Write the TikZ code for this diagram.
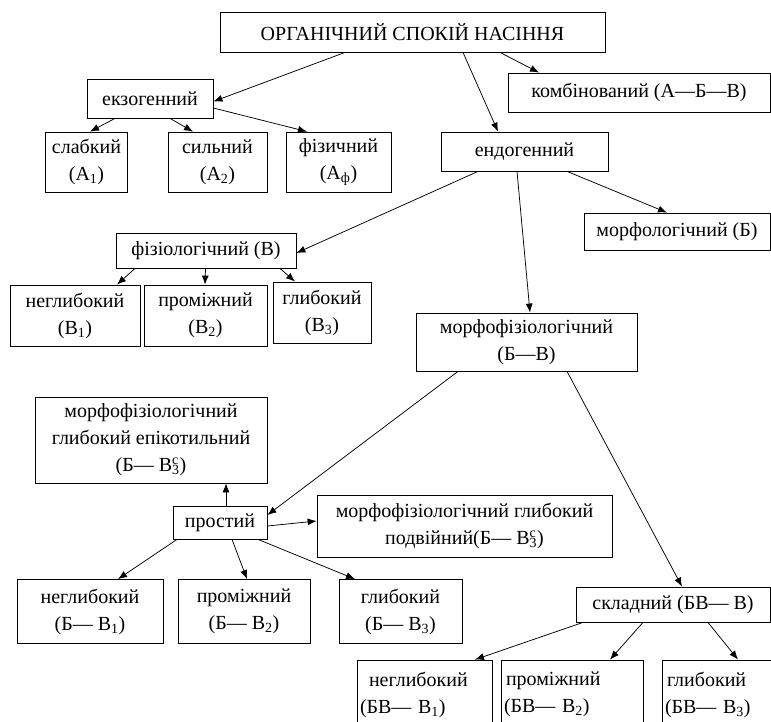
\documentclass[tikz,border=0pt]{standalone}
\usepackage{fontspec}
\setmainfont{Liberation Serif}
\usepackage{tikz}
\usetikzlibrary{arrows.meta, positioning, calc}

\newcommand{\sub}[1]{\textsubscript{#1}}
\newcommand{\epiV}{В\rlap{\textsuperscript{с}}\textsubscript{3}}

\begin{document}
\begin{tikzpicture}[
    x=1pt, y=-1pt,
    box/.style={rectangle, draw=black, line width=0.8pt, align=center, inner sep=0pt, font=\fontsize{20}{27}\selectfont},
    lbox/.style={box, align=left, inner xsep=3pt},
    arrow/.style={line width=0.75pt,-{Latex[length=9pt,width=7pt]}}
]
    \clip (0,0) rectangle (771,722);

    % top level
    \node[box, minimum width=385pt, minimum height=40pt] (root) at (412.5,32) {ОРГАНІЧНИЙ СПОКІЙ НАСІННЯ};
    \node[box, minimum width=126pt, minimum height=39pt] (exo) at (150,98.5) {екзогенний};
    \node[box, minimum width=262pt, minimum height=39pt] (komb) at (639,92.5) {комбінований (А—Б—В)};
    \node[box, minimum width=167pt, minimum height=39pt] (endo) at (524.5,151.5) {ендогенний};

    % exogenous
    \node[box, minimum width=82pt, minimum height=60pt] (a1) at (86.5,162) {слабкий\\(А\sub{1})};
    \node[box, minimum width=99pt, minimum height=60pt] (a2) at (217.5,162) {сильний\\(А\sub{2})};
    \node[box, minimum width=105pt, minimum height=60pt] (af) at (338.5,162) {фізичний\\(А\sub{ф})};

    % endogenous
    \node[box, minimum width=186pt, minimum height=37pt] (morf) at (677,231.5) {морфологічний (Б)};
    \node[box, minimum width=180pt, minimum height=35pt] (fiz) at (206,250.5) {фізіологічний (В)};
    \node[box, minimum width=130pt, minimum height=61pt] (b1) at (75,315.5) {неглибокий\\(В\sub{1})};
    \node[box, minimum width=123pt, minimum height=61pt] (b2) at (205.5,315.5) {проміжний\\(В\sub{2})};
    \node[box, minimum width=98pt, minimum height=61pt] (b3) at (322,312.5) {глибокий\\(В\sub{3})};
    \node[box, minimum width=221pt, minimum height=58pt] (mf) at (526.5,342) {морфофізіологічний\\(Б—В)};

    % simple
    \node[box, minimum width=232pt, minimum height=86pt] (epi) at (151,440) {морфофізіологічний\\глибокий епікотильний\\(Б— \epiV)};
    \node[box, minimum width=94pt, minimum height=33pt] (prost) at (220,522.5) {простий};
    \node[box, minimum width=295pt, minimum height=62pt] (podv) at (464.5,526) {морфофізіологічний глибокий\\подвійний(Б— \epiV)};
    \node[box, minimum width=146pt, minimum height=64pt] (c1) at (90,611.5) {неглибокий\\(Б— В\sub{1})};
    \node[box, minimum width=132pt, minimum height=64pt] (c2) at (244,611.5) {проміжний\\(Б— В\sub{2})};
    \node[box, minimum width=123pt, minimum height=64pt] (c3) at (400.5,611.5) {глибокий\\(Б— В\sub{3})};

    % complex
    \node[box, minimum width=194pt, minimum height=35pt] (skl) at (673,604.5) {складний (БВ— В)};
    \node[lbox, minimum width=135pt, text width=129pt, minimum height=69pt] (d1) at (424.5,694.5) {\hspace{9pt}неглибокий\\(БВ— В\sub{1})};
    \node[lbox, minimum width=142pt, text width=136pt, minimum height=69pt] (d2) at (572,694.5) {\hspace{2pt}проміжний\\(БВ— В\sub{2})};
    \node[lbox, minimum width=130pt, text width=124pt, minimum height=69pt] (d3) at (727,694.5) {\hspace{2pt}глибокий\\(БВ— В\sub{3})};

    \draw[arrow] ([xshift=-67.5pt]root.south) -- ([yshift=-3pt]exo.east);
    \draw[arrow] ([xshift=50.5pt]root.south) -- ([xshift=-26.5pt]endo.north);
    \draw[arrow] ([xshift=87.5pt]root.south) -- ([xshift=-100pt]komb.north);

    \draw[arrow] ([xshift=-35pt]exo.south) -- ([xshift=3.5pt]a1.north);
    \draw[arrow] ([xshift=20pt]exo.south) -- ([xshift=-24.5pt]a2.north);
    \draw[arrow] ([yshift=-9.5pt]exo.east) -- ([xshift=-31.5pt]af.north);

    \draw[arrow] ([xshift=-46.5pt]endo.south) -- ([yshift=-2.5pt]fiz.east);
    \draw[arrow] ([xshift=-7.5pt]endo.south) -- ([xshift=3.5pt]mf.north);
    \draw[arrow] ([xshift=42.5pt]endo.south) -- ([xshift=-10pt]morf.north);

    \draw[arrow] ([xshift=-71pt]fiz.south) -- ([xshift=42pt]b1.north);
    \draw[arrow] ([xshift=-0.5pt]fiz.south) -- ([xshift=-0.5pt]b2.north);
    \draw[arrow] ([xshift=74pt]fiz.south) -- ([xshift=-27pt]b3.north);

    \draw[arrow] ([xshift=-68.5pt]mf.south) -- ([yshift=7.5pt]prost.east);
    \draw[arrow] ([xshift=40.5pt]mf.south) -- ([xshift=9pt]skl.north);

    \draw[arrow] ([xshift=6pt]prost.north) -- ([xshift=75pt]epi.south);
    \draw[arrow] ([yshift=-3.5pt]prost.east) -- ([yshift=5pt]podv.west);
    \draw[arrow] ([xshift=-43pt]prost.south) -- ([xshift=28pt]c1.north);
    \draw[arrow] ([xshift=12pt]prost.south) -- ([xshift=3pt]c2.north);
    \draw[arrow] ([xshift=38pt]prost.south) -- ([xshift=-45.5pt]c3.north);

    \draw[arrow] ([xshift=-90pt]skl.south) -- ([xshift=50.5pt]d1.north);
    \draw[arrow] ([xshift=-30pt]skl.south) -- ([xshift=38pt]d2.north);
    \draw[arrow] ([xshift=35pt]skl.south) -- ([xshift=11pt]d3.north);
\end{tikzpicture}
\end{document}
